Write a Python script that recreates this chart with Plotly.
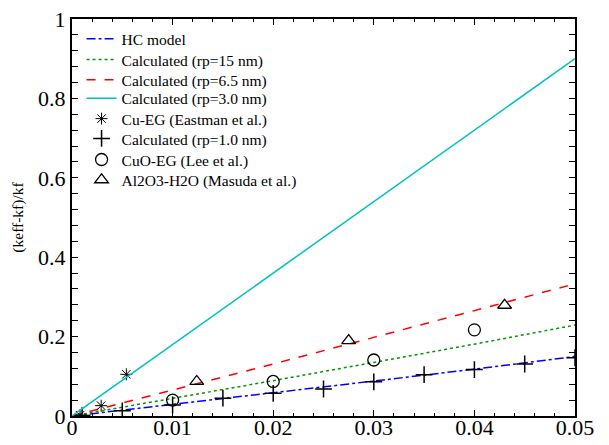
import plotly.graph_objects as go

# Model curves (volume fraction vs enhancement)
phi_line = [0.0, 0.01, 0.02, 0.03, 0.04, 0.05]
hc_model = [0.0, 0.029, 0.058, 0.088, 0.118, 0.150]
rp15 = [0.0, 0.044, 0.089, 0.135, 0.181, 0.229]
rp65 = [0.0, 0.065, 0.131, 0.198, 0.265, 0.333]
rp30_phi = [0.0, 0.05]
rp30 = [0.0, 0.900]

# Experimental / calculated points
cu_eg_phi = [0.0008, 0.0029, 0.0054]
cu_eg = [0.002, 0.026, 0.105]
rp10_phi = [0.001, 0.005, 0.01, 0.015, 0.02, 0.025, 0.03, 0.035, 0.04, 0.045, 0.05]
rp10 = [0.001, 0.013, 0.028, 0.045, 0.057, 0.068, 0.086, 0.104, 0.117, 0.131, 0.147]
cuo_phi = [0.01, 0.02, 0.03, 0.04]
cuo = [0.040, 0.087, 0.141, 0.217]
al_phi = [0.0124, 0.0275, 0.043]
al = [0.087, 0.190, 0.279]

x_ticks = [0, 0.01, 0.02, 0.03, 0.04, 0.05]
x_labels = ["0", "0.01", "0.02", "0.03", "0.04", "0.05"]
y_ticks = [0, 0.2, 0.4, 0.6, 0.8, 1]
y_labels = ["0", "0.2", "0.4", "0.6", "0.8", "1"]
x_range = [0, 0.05]
y_range = [0, 1]

SERIF = "Liberation Serif"
legend_names = ["legend", "legend2", "legend3", "legend4",
                "legend5", "legend6", "legend7", "legend8"]

fig = go.Figure()
fig.add_trace(go.Scatter(x=phi_line, y=hc_model, mode="lines", name="HC model",
                         line=dict(color="#0000ff", dash="dashdot", width=1.5),
                         legend=legend_names[0]))
fig.add_trace(go.Scatter(x=phi_line, y=rp15, mode="lines", name="Calculated (rp=15 nm)",
                         line=dict(color="#009900", dash="dot", width=1.5),
                         legend=legend_names[1]))
fig.add_trace(go.Scatter(x=phi_line, y=rp65, mode="lines", name="Calculated (rp=6.5 nm)",
                         line=dict(color="#ff0000", dash="dash", width=1.5),
                         legend=legend_names[2]))
# drawn on the label-carrying overlay x axis (same range as the main x axis)
fig.add_trace(go.Scatter(x=rp30_phi, y=rp30, mode="lines", name="Calculated (rp=3.0 nm)",
                         line=dict(color="#00c0c0", width=1.5),
                         legend=legend_names[3], xaxis="x2"))
fig.add_trace(go.Scatter(x=cu_eg_phi, y=cu_eg, mode="markers", name="Cu-EG (Eastman et al.)",
                         marker=dict(symbol="asterisk-open", size=10, color="black",
                                     line=dict(color="black", width=1)),
                         legend=legend_names[4]))
fig.add_trace(go.Scatter(x=rp10_phi, y=rp10, mode="markers", name="Calculated (rp=1.0 nm)",
                         marker=dict(symbol="cross-thin-open", size=12, color="black",
                                     line=dict(color="black", width=1.5)),
                         legend=legend_names[5]))
fig.add_trace(go.Scatter(x=cuo_phi, y=cuo, mode="markers", name="CuO-EG (Lee et al.)",
                         marker=dict(symbol="circle-open", size=12, color="black",
                                     line=dict(color="black", width=1.3)),
                         legend=legend_names[6]))
fig.add_trace(go.Scatter(x=al_phi, y=al, mode="markers", name="Al2O3-H2O (Masuda et al.)",
                         marker=dict(symbol="triangle-up-open", size=12, color="black",
                                     line=dict(color="black", width=1.3)),
                         legend=legend_names[7]))

tick_font = dict(family=SERIF, size=22, color="black")

fig.update_layout(
    xaxis=dict(
        range=x_range, tickvals=x_ticks, showticklabels=False,
        showline=True, linecolor="black", linewidth=2, mirror="allticks",
        ticks="inside", ticklen=6, tickwidth=1, tickcolor="black",
        showgrid=False, zeroline=False, automargin=False,
        minor=dict(ticks="inside", ticklen=3, dtick=0.002, tickcolor="black", showgrid=False),
    ),
    xaxis2=dict(
        range=x_range, tickvals=x_ticks, ticktext=x_labels,
        overlaying="x", anchor="free", position=0.009, side="bottom",
        showline=False, ticks="", showgrid=False, zeroline=False, automargin=False,
        tickfont=tick_font,
    ),
    yaxis=dict(
        range=y_range, tickvals=y_ticks, ticktext=y_labels,
        showline=True, linecolor="black", linewidth=2, mirror="allticks",
        ticks="inside", ticklen=6, tickwidth=1, tickcolor="black",
        showgrid=False, zeroline=False, automargin=False,
        tickfont=tick_font,
        minor=dict(ticks="inside", ticklen=3, dtick=0.04, tickcolor="black", showgrid=False),
        title=dict(text="(keff-kf)/kf", standoff=11,
                   font=dict(family=SERIF, size=15.5, color="black")),
    ),
)

# one single-entry legend per row so the row spacing matches the original
legend_rows_y = [0.949, 0.897, 0.846, 0.799, 0.748, 0.698, 0.645, 0.594]
layout_legends = {}
for name, ly in zip(legend_names, legend_rows_y):
    layout_legends[name] = dict(
        x=0.019, y=ly, xanchor="left", yanchor="middle",
        bgcolor="rgba(0,0,0,0)", borderwidth=0,
        font=dict(family=SERIF, size=15.5, color="black"),
    )

fig.update_layout(
    width=609, height=445,
    margin=dict(l=72, r=34, t=19, b=29),
    paper_bgcolor="white", plot_bgcolor="white",
    showlegend=True,
    **layout_legends,
)

fig.write_html("out.html",
               config={"displayModeBar": False},
               post_script="document.body.style.margin='0';document.body.style.overflow='hidden';")
